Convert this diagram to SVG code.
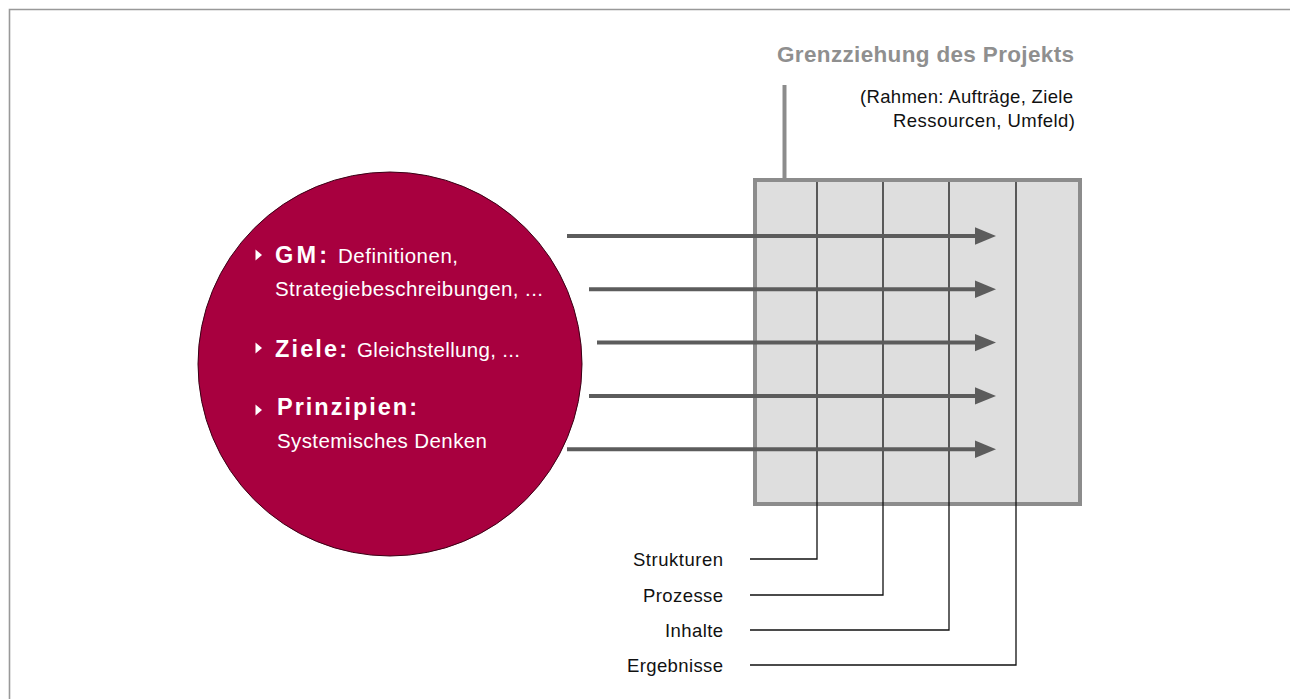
<svg xmlns="http://www.w3.org/2000/svg" width="1290" height="699" viewBox="0 0 1290 699">
  <defs>
    <style>
      text { font-family: "Liberation Sans", Arial, sans-serif; }
      .frame { stroke: #999999; stroke-width: 1.6; fill: none; }
      .arrow { stroke: #5c5c5c; stroke-width: 4; fill: none; }
      .head { fill: #5c5c5c; }
      .lead { stroke: #111111; stroke-width: 1.3; fill: none; }
      .cw { fill: #ffffff; font-size: 20.5px; }
      .cwb { fill: #ffffff; font-size: 23.5px; font-weight: bold; }
      .lbl { fill: #111111; font-size: 18.5px; text-anchor: end; }
      .bul { fill: #ffffff; }
    </style>
  </defs>
  <rect x="0" y="0" width="1290" height="699" fill="#ffffff"/>
  <path class="frame" d="M9.5 699 V9.5 H1290"/>

  <g id="title">
    <text x="777" y="62" font-size="22.5" font-weight="bold" fill="#8f8f8f" textLength="297" lengthAdjust="spacing">Grenzziehung des Projekts</text>
    <text x="860" y="103" font-size="18.5" fill="#111111" textLength="213" lengthAdjust="spacing">(Rahmen: Aufträge, Ziele</text>
    <text x="893" y="126.5" font-size="18.5" fill="#111111" textLength="182" lengthAdjust="spacing">Ressourcen, Umfeld)</text>
  </g>

  <g id="circle">
    <circle cx="390" cy="364" r="192" fill="#a8003f" stroke="#3a0015" stroke-width="1"/>
    <polygon class="bul" points="255.5,249.5 262,255 255.5,260.5"/>
    <text class="cwb" x="275" y="263" textLength="52" lengthAdjust="spacing">GM:</text>
    <text class="cw" x="338" y="263" textLength="120" lengthAdjust="spacing">Definitionen,</text>
    <text class="cw" x="275" y="296" textLength="268" lengthAdjust="spacing">Strategiebeschreibungen, ...</text>
    <polygon class="bul" points="255.5,342.5 262,348 255.5,353.5"/>
    <text class="cwb" x="275" y="357" textLength="72" lengthAdjust="spacing">Ziele:</text>
    <text class="cw" x="357" y="357" textLength="163" lengthAdjust="spacing">Gleichstellung, ...</text>
    <polygon class="bul" points="255.5,404.5 262,410 255.5,415.5"/>
    <text class="cwb" x="277" y="415" textLength="140" lengthAdjust="spacing">Prinzipien:</text>
    <text class="cw" x="277" y="448" textLength="210" lengthAdjust="spacing">Systemisches Denken</text>
  </g>

  <g id="project-box">
    <rect x="755" y="180" width="325" height="324" fill="#dedede" stroke="#8c8c8c" stroke-width="4"/>
    <line x1="784.5" y1="85" x2="784.5" y2="180" stroke="#8c8c8c" stroke-width="4"/>
  </g>

  <g id="connectors">
    <path class="lead" d="M750 559 H817 V182"/>
    <path class="lead" d="M750 595 H883 V182"/>
    <path class="lead" d="M750 630 H949 V182" stroke="#444444"/>
    <path class="lead" d="M750 665 H1016 V182"/>

    <line class="arrow" x1="567" y1="236" x2="977" y2="236"/>
    <polygon class="head" points="975,227.3 996,236 975,244.7"/>
    <line class="arrow" x1="589" y1="289.3" x2="977" y2="289.3"/>
    <polygon class="head" points="975,280.6 996,289.3 975,298"/>
    <line class="arrow" x1="597" y1="342.6" x2="977" y2="342.6"/>
    <polygon class="head" points="975,333.9 996,342.6 975,351.3"/>
    <line class="arrow" x1="589" y1="395.9" x2="977" y2="395.9"/>
    <polygon class="head" points="975,387.2 996,395.9 975,404.6"/>
    <line class="arrow" x1="567" y1="449.2" x2="977" y2="449.2"/>
    <polygon class="head" points="975,440.5 996,449.2 975,457.9"/>
  </g>

  <g id="labels">
    <text class="lbl" x="723" y="566" textLength="90" lengthAdjust="spacing">Strukturen</text>
    <text class="lbl" x="723" y="601.5" textLength="80" lengthAdjust="spacing">Prozesse</text>
    <text class="lbl" x="723" y="636.5" textLength="58" lengthAdjust="spacing">Inhalte</text>
    <text class="lbl" x="723" y="671.5" textLength="96" lengthAdjust="spacing">Ergebnisse</text>
  </g>
</svg>
